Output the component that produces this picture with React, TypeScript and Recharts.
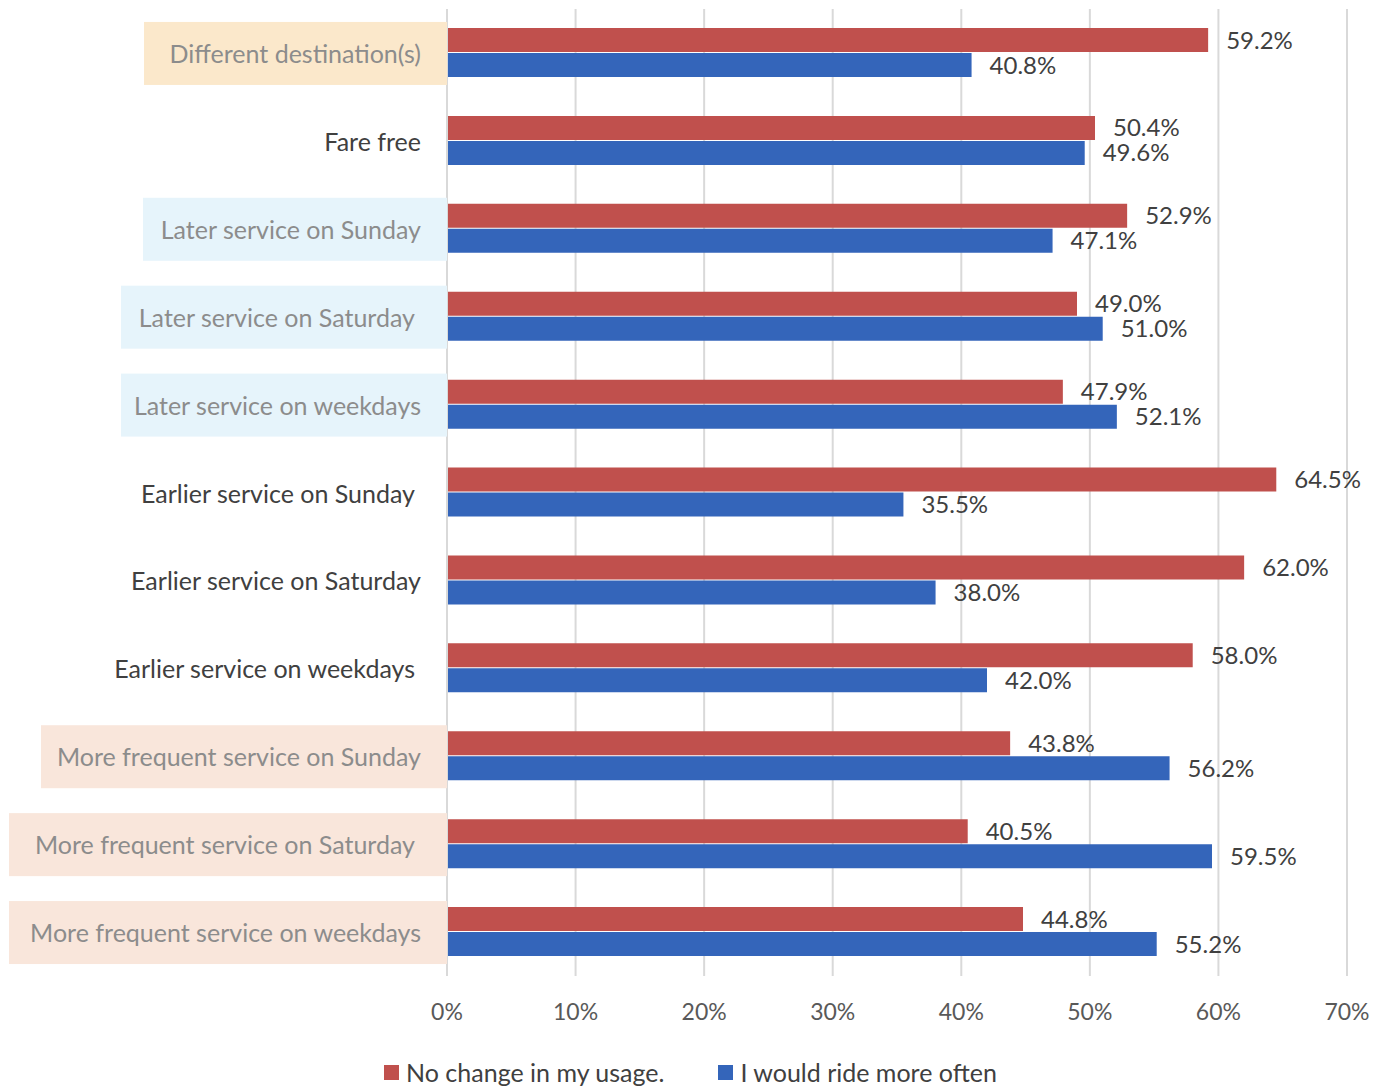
import React from 'react';
import {
  BarChart,
  Bar,
  XAxis,
  YAxis,
  CartesianGrid,
  Legend,
  LabelList,
} from 'recharts';

// categories, top to bottom
const categories = [
  'Different destination(s)',
  'Fare free',
  'Later service on Sunday',
  'Later service on Saturday',
  'Later service on weekdays',
  'Earlier service on Sunday',
  'Earlier service on Saturday',
  'Earlier service on weekdays',
  'More frequent service on Sunday',
  'More frequent service on Saturday',
  'More frequent service on weekdays',
];

const noChange = [59.2, 50.4, 52.9, 49.0, 47.9, 64.5, 62.0, 58.0, 43.8, 40.5, 44.8];
const rideMore = [40.8, 49.6, 47.1, 51.0, 52.1, 35.5, 38.0, 42.0, 56.2, 59.5, 55.2];

const xTicks = [0, 10, 20, 30, 40, 50, 60, 70];

const seriesNames = ['No change in my usage.', 'I would ride more often'];

const colors = {
  red: '#C0504D',
  blue: '#3465BA',
  grid: '#D9D9D9',
  text: '#404040',
  axisText: '#595959',
  mutedText: '#8C8C8C',
};

// highlighted label boxes (left edge of box and fill)
const highlights: Record<string, { left: number; fill: string }> = {
  'Different destination(s)': { left: 144, fill: '#FBE8CB' },
  'Later service on Sunday': { left: 143, fill: '#E6F4FB' },
  'Later service on Saturday': { left: 121, fill: '#E6F4FB' },
  'Later service on weekdays': { left: 121, fill: '#E6F4FB' },
  'More frequent service on Sunday': { left: 41, fill: '#F9E6DB' },
  'More frequent service on Saturday': { left: 9, fill: '#F9E6DB' },
  'More frequent service on weekdays': { left: 9, fill: '#F9E6DB' },
};

// a few labels sit a little left of the others in the original
const shifted = [
  'Later service on Saturday',
  'Earlier service on Sunday',
  'Earlier service on weekdays',
  'More frequent service on Saturday',
];

const FONT = 'Lato, "Open Sans", sans-serif';

const chartData = categories.map((name, i) => ({
  name,
  noChange: noChange[i],
  rideMore: rideMore[i],
}));

function CategoryTick(props: any) {
  const { x, y, payload } = props;
  const label: string = payload.value;
  const hl = highlights[label];
  const endX = x - 26 - (shifted.includes(label) ? 6 : 0);
  return (
    <g>
      {hl && (
        <rect x={hl.left} y={y - 31} width={x - hl.left} height={63} fill={hl.fill} />
      )}
      <text
        x={endX}
        y={y}
        textAnchor="end"
        dominantBaseline="central"
        fontFamily={FONT}
        fontSize={25}
        fill={hl ? colors.mutedText : colors.text}
      >
        {label}
      </text>
    </g>
  );
}

function LegendContent() {
  const items = [
    { name: seriesNames[0], color: colors.red },
    { name: seriesNames[1], color: colors.blue },
  ];
  return (
    <div
      style={{
        display: 'flex',
        justifyContent: 'center',
        gap: 54,
        marginTop: 6,
        marginLeft: 34,
        fontFamily: FONT,
        fontSize: 25,
        color: colors.text,
      }}
    >
      {items.map((it) => (
        <div key={it.name} style={{ display: 'flex', alignItems: 'center', gap: 7 }}>
          <div style={{ width: 15, height: 15, backgroundColor: it.color }} />
          <span>{it.name}</span>
        </div>
      ))}
    </div>
  );
}

export default function App() {
  return (
    <div style={{ position: 'absolute', left: 0, top: 0, background: '#fff' }}>
      <BarChart
        width={1374}
        height={1087}
        data={chartData}
        layout="vertical"
        margin={{ top: 9, right: 27, left: 0, bottom: 0 }}
        barSize={24}
        barGap={1}
      >
        <CartesianGrid horizontal={false} stroke={colors.grid} strokeWidth={2} />
        <XAxis
          type="number"
          domain={[0, 70]}
          ticks={xTicks}
          tickFormatter={(v: number) => `${v}%`}
          axisLine={false}
          tickLine={false}
          tickSize={6}
          tickMargin={22}
          height={75}
          tick={{ fill: colors.axisText, fontSize: 23, fontFamily: FONT }}
        />
        <YAxis
          type="category"
          dataKey="name"
          width={447}
          axisLine={{ stroke: colors.grid, strokeWidth: 2 }}
          tickLine={false}
          tickSize={0}
          tickMargin={0}
          interval={0}
          tick={<CategoryTick />}
        />
        <Legend verticalAlign="bottom" height={36} content={<LegendContent />} />
        <Bar dataKey="noChange" name={seriesNames[0]} fill={colors.red} isAnimationActive={false}>
          <LabelList
            dataKey="noChange"
            position="right"
            offset={18}
            formatter={(v: any) => `${Number(v).toFixed(1)}%`}
            fill={colors.text}
            fontSize={24}
            fontFamily={FONT}
          />
        </Bar>
        <Bar dataKey="rideMore" name={seriesNames[1]} fill={colors.blue} isAnimationActive={false}>
          <LabelList
            dataKey="rideMore"
            position="right"
            offset={18}
            formatter={(v: any) => `${Number(v).toFixed(1)}%`}
            fill={colors.text}
            fontSize={24}
            fontFamily={FONT}
          />
        </Bar>
      </BarChart>
    </div>
  );
}
